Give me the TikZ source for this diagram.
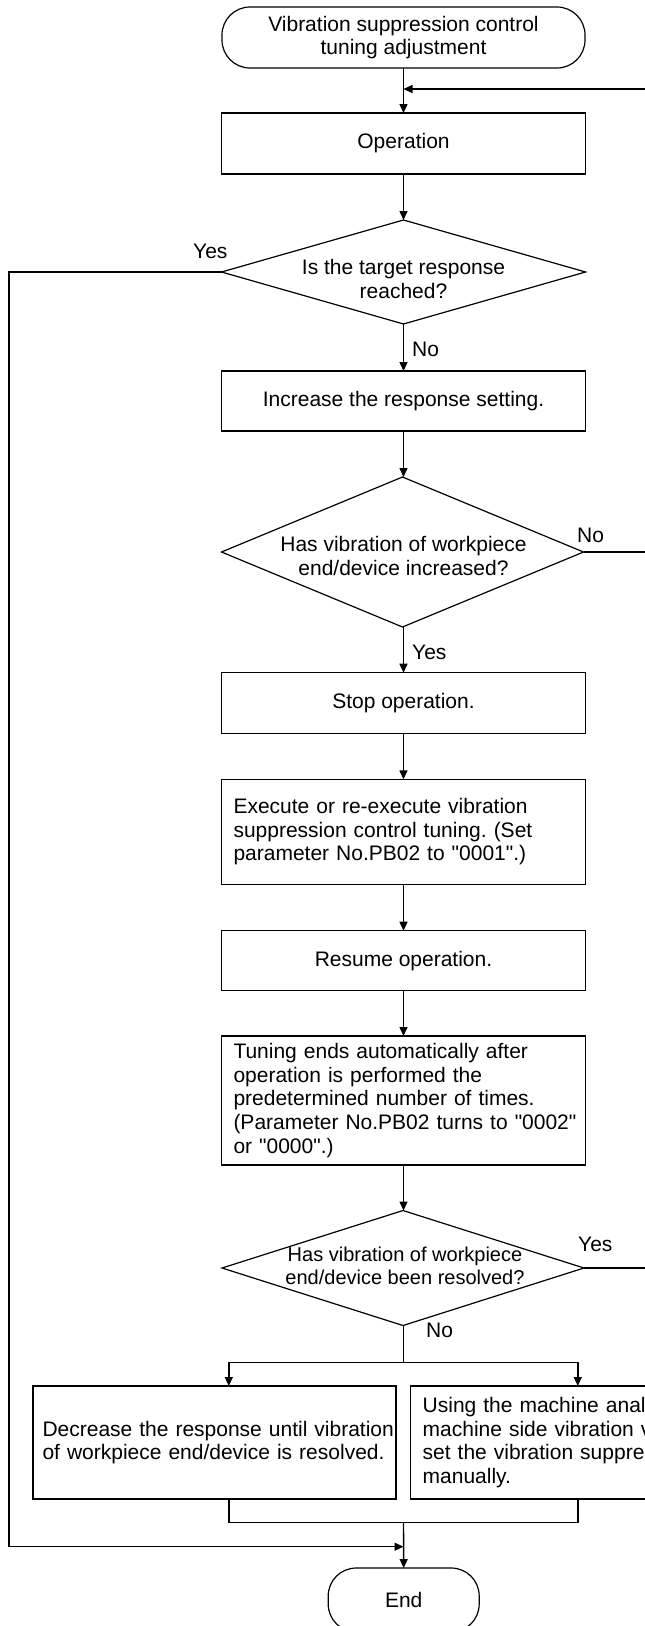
\documentclass[tikz,border=0pt]{standalone}
\usepackage{fontspec}
\setmainfont{Liberation Sans}[Ligatures=TeXOff]
\usetikzlibrary{shapes.geometric,arrows.meta}
\frenchspacing
\begin{document}
\begin{tikzpicture}[x=1pt,y=-1pt,
  every node/.style={font=\fontsize{21}{23.6}\selectfont},
  term/.style={draw,rectangle,rounded corners=28pt,line width=1.2pt,inner sep=0pt,outer sep=0pt,align=center},
  pbox/.style={draw,rectangle,line width=1.2pt,inner sep=0pt,outer sep=0pt,minimum width=364pt},
  dia/.style={draw,diamond,line width=1.2pt,inner sep=0pt,outer sep=0pt},
  dtext/.style={align=center,inner sep=0pt},
  lbl/.style={anchor=west,inner sep=0pt},
  conn/.style={line width=1.4pt},
  arr/.style={line width=1.4pt,-{Triangle[length=9pt,width=8pt]}}]
\clip (0,0) rectangle (645,1626);
\fill[white] (0,0) rectangle (645,1626);

% nodes
\node[term,minimum width=363pt,minimum height=61pt] (start) at (403.5,37.5) {Vibration suppression control\\tuning adjustment};
\node[pbox,minimum height=61pt] (op) at (403.5,143.5) {Operation};
\node[dia,minimum width=364pt,minimum height=104pt] (d1) at (403.5,272) {};
\node[dtext] (d1t) at (403.5,279) {Is the target response\\reached?};
\node[pbox,minimum height=60pt] (inc) at (403.5,401) {Increase the response setting.};
\node[dia,minimum width=362pt,minimum height=150pt] (d2) at (402.5,552) {};
\node[dtext] (d2t) at (403.5,556) {Has vibration of workpiece\\end/device increased?};
\node[pbox,minimum height=60.6pt] (stop) at (403.5,703) {Stop operation.};
\node[pbox,minimum height=105pt,text width=340pt,align=left] (exec) at (403.5,831.8) {\mbox{Execute or re-execute vibration}\\\mbox{suppression control tuning. (Set}\\\mbox{parameter No.PB02 to "0001".)}};
\node[pbox,minimum height=60pt] (res) at (403.5,960.7) {Resume operation.};
\node[pbox,minimum height=129pt,text width=340pt,align=left] (tune) at (403.5,1100.5) {\mbox{Tuning ends automatically after}\\\mbox{operation is performed the}\\\mbox{predetermined number of times.}\\\mbox{(Parameter No.PB02 turns to "0002"}\\\mbox{or "0000".)}};
\node[dia,minimum width=362pt,minimum height=115pt] (d3) at (403,1268) {};
\node[dtext,font=\fontsize{20}{23.6}\selectfont] (d3t) at (405,1266) {Has vibration of workpiece\\end/device been resolved?};
\node[pbox,minimum width=363pt,minimum height=113pt,text width=344pt,align=left] (lb) at (214.5,1442.5) {\mbox{Decrease the response until vibration}\\\mbox{of workpiece end/device is resolved.}};
\node[pbox,minimum width=363pt,minimum height=113pt,text width=339pt,align=left] (rb) at (592.2,1442.5) {\mbox{Using the machine anal}\\\mbox{machine side vibration v}\\\mbox{set the vibration suppres}\\\mbox{manually.}};
\node[term,minimum width=151pt,minimum height=64pt] (end) at (403.7,1600) {End};

% labels
\node[lbl] (y1) at (193,251.7) {Yes};
\node[lbl] (n1) at (412,349) {No};
\node[lbl] (n2) at (577,535.7) {No};
\node[lbl] (y2) at (412,652.7) {Yes};
\node[lbl] (y3) at (578,1244) {Yes};
\node[lbl] (n3) at (426,1330.7) {No};

% helper coordinates
\coordinate (rx) at (665,0);
\coordinate (lx) at (9,0);
\coordinate (fb) at (403.5,89);
\coordinate (lj) at (403.5,1546.7);
\coordinate (br) at (403.5,1362.7);
\coordinate (bl) at (228.8,1362.7);
\coordinate (brr) at (577.8,1362.7);
\coordinate (mg) at (403.5,1522.3);

% connectors
\draw[arr] (start.south) -- (op.north);
\draw[arr] (op.south) -- (d1.north);
\draw[arr] (d1.south) -- (inc.north);
\draw[arr] (inc.south) -- (d2.north -| inc.south);
\draw[arr] (d2.south -| stop.north) -- (stop.north);
\draw[arr] (stop.south) -- (exec.north);
\draw[arr] (exec.south) -- (res.north);
\draw[arr] (res.south) -- (tune.north);
\draw[arr] (tune.south) -- (d3.north -| tune.south);
\draw[arr] (d2.east) -- (d2.east -| rx) |- (fb);
\draw[conn] (d3.east) -- (d3.east -| rx) -- (d2.east -| rx);
\draw[arr] (d1.west) -- (d1.west -| lx) |- (lj);
\draw[conn] (d3.south -| br) -- (br);
\draw[arr] (br) -- (bl) -- (bl |- lb.north);
\draw[arr] (br) -- (brr) -- (brr |- rb.north);
\draw[conn] (bl |- lb.south) -- (bl |- mg) -- (brr |- mg) -- (brr |- rb.south);
\draw[arr] (mg) -- (end.north);
\end{tikzpicture}
\end{document}
